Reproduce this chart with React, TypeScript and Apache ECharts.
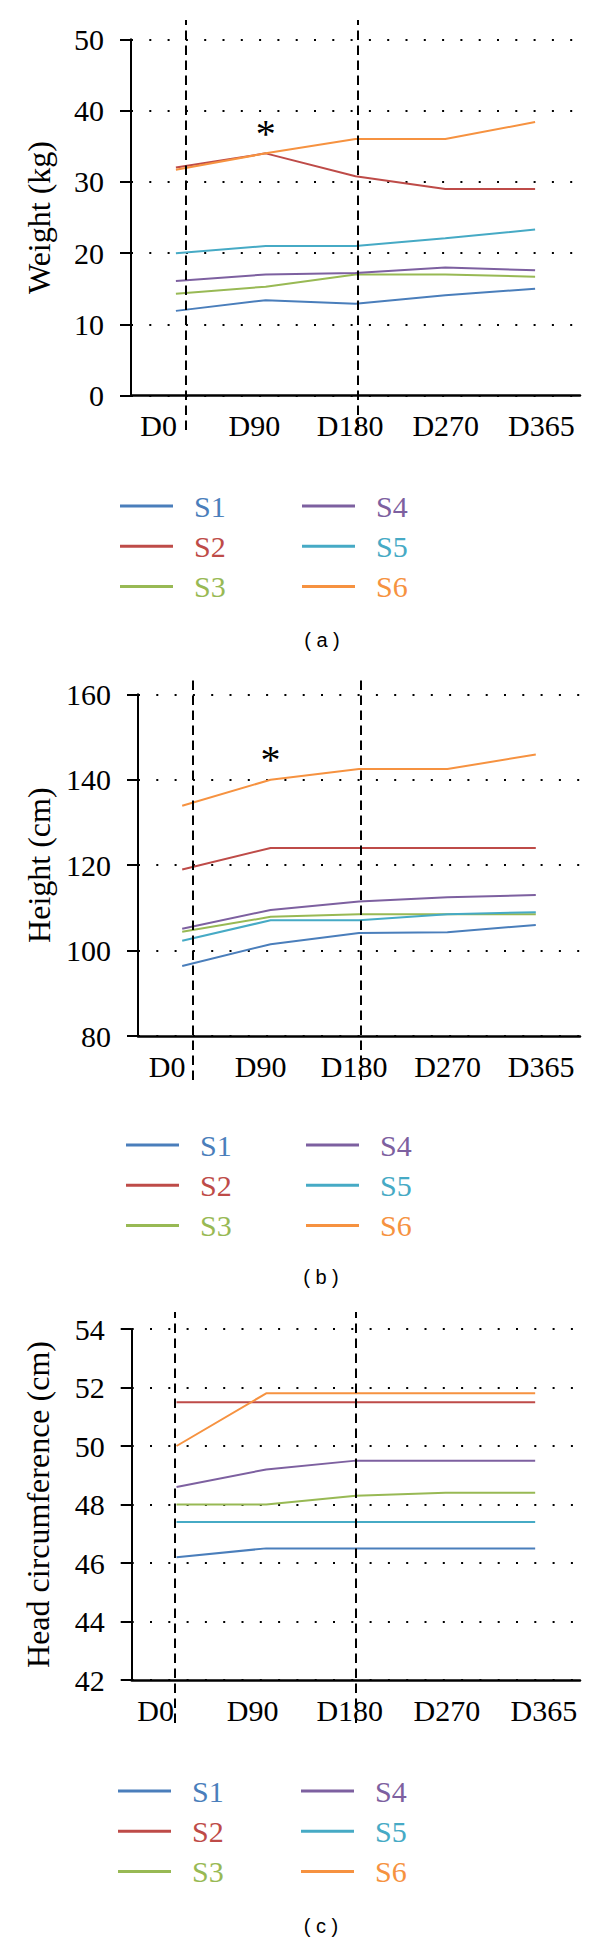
import React, { useEffect, useRef } from 'react';
import * as echarts from 'echarts';

// ---------- data ----------
const days = ['D0', 'D90', 'D180', 'D270', 'D365'];
const seriesNames = ['S1', 'S2', 'S3', 'S4', 'S5', 'S6'];
const seriesColors = ['#4A7EBB', '#BE4B48', '#98B954', '#7D60A0', '#46AAC5', '#F69240'];

// (a) Weight (kg)
const weightS1 = [11.9, 13.4, 12.9, 14.1, 15.0];
const weightS2 = [32.0, 34.0, 30.8, 29.0, 29.0];
const weightS3 = [14.3, 15.3, 17.0, 17.0, 16.7];
const weightS4 = [16.1, 17.0, 17.2, 18.0, 17.6];
const weightS5 = [20.0, 21.0, 21.0, 22.1, 23.3];
const weightS6 = [31.7, 34.0, 36.0, 36.0, 38.4];
const weightTicks = [0, 10, 20, 30, 40, 50];

// (b) Height (cm)
const heightS1 = [96.4, 101.5, 104.1, 104.3, 106.0];
const heightS2 = [119.0, 124.0, 124.0, 124.0, 124.0];
const heightS3 = [104.4, 107.9, 108.5, 108.5, 108.5];
const heightS4 = [105.1, 109.5, 111.5, 112.5, 113.0];
const heightS5 = [102.3, 107.1, 107.1, 108.5, 109.0];
const heightS6 = [133.9, 140.0, 142.5, 142.5, 145.9];
const heightTicks = [80, 100, 120, 140, 160];

// (c) Head circumference (cm)
const headS1 = [46.2, 46.5, 46.5, 46.5, 46.5];
const headS2 = [51.5, 51.5, 51.5, 51.5, 51.5];
const headS3 = [48.0, 48.0, 48.3, 48.4, 48.4];
const headS4 = [48.6, 49.2, 49.5, 49.5, 49.5];
const headS5 = [47.4, 47.4, 47.4, 47.4, 47.4];
const headS6 = [50.0, 51.8, 51.8, 51.8, 51.8];
const headTicks = [42, 44, 46, 48, 50, 52, 54];

// significance mark '*' on S6 at D90 (panels a, b)
const starIndex = 1;
// vertical dashed markers (in day-index units)
const weightMarkers = [0.11, 2.02];
const heightMarkers = [0.12, 2.02];
const headMarkers = [-0.02, 2.0];

// ---------- layout ----------
const SERIF = 'Liberation Serif';
const panels = [
  {
    title: 'Weight (kg)', caption: '( a )', ticks: weightTicks,
    values: [weightS1, weightS2, weightS3, weightS4, weightS5, weightS6],
    markers: weightMarkers, star: true,
    left: 131, width: 449, top: 39.3, height: 356.4,
    labelLeft: 110.8, labelWidth: 478.5,
    dashTop: 20, dashHeight: 410,
    nameGap: 76,
    legendTop: 491, legendLeft: [120, 302],
    captionX: 322, captionY: 640,
  },
  {
    title: 'Height (cm)', caption: '( b )', ticks: heightTicks,
    values: [heightS1, heightS2, heightS3, heightS4, heightS5, heightS6],
    markers: heightMarkers, star: true,
    left: 138, width: 442, top: 694.3, height: 341.7,
    labelLeft: 120.3, labelWidth: 467.5,
    dashTop: 675, dashHeight: 405,
    nameGap: 83,
    legendTop: 1130, legendLeft: [126, 306],
    captionX: 321, captionY: 1277,
  },
  {
    title: 'Head circumference (cm)', caption: '( c )', ticks: headTicks,
    values: [headS1, headS2, headS3, headS4, headS5, headS6],
    markers: headMarkers, star: false,
    left: 131.7, width: 448.3, top: 1329, height: 351,
    labelLeft: 107, labelWidth: 485.5,
    dashTop: 1312, dashHeight: 411,
    nameGap: 78,
    legendTop: 1776, legendLeft: [118, 301],
    captionX: 321, captionY: 1926,
  },
];

function buildOption() {
  const grid: any[] = [];
  const xAxis: any[] = [];
  const yAxis: any[] = [];
  const series: any[] = [];
  const legend: any[] = [];
  const graphic: any[] = [];

  panels.forEach((p, pi) => {
    const g = pi * 3;
    grid.push({ left: p.left, top: p.top, width: p.width, height: p.height, containLabel: false });
    grid.push({ left: p.labelLeft, top: p.top, width: p.labelWidth, height: p.height, containLabel: false });
    grid.push({ left: p.left, top: p.dashTop, width: p.width, height: p.dashHeight, containLabel: false });

    xAxis.push({
      gridIndex: g, type: 'category', data: days, boundaryGap: true,
      axisLine: { show: true, onZero: false, lineStyle: { color: '#000', width: 2.5 } },
      axisTick: { show: false }, axisLabel: { show: false }, splitLine: { show: false },
    });
    xAxis.push({
      gridIndex: g + 1, type: 'category', data: days, boundaryGap: true,
      axisLine: { show: false }, axisTick: { show: false }, splitLine: { show: false },
      axisLabel: { show: true, interval: 0, margin: 15, fontSize: 30, fontFamily: SERIF, color: '#000' },
    });
    xAxis.push({ gridIndex: g + 2, type: 'value', min: -0.5, max: 4.5, show: false });

    const t = p.ticks;
    yAxis.push({
      gridIndex: g, type: 'value', min: t[0], max: t[t.length - 1], interval: t[1] - t[0],
      name: p.title, nameLocation: 'middle', nameGap: p.nameGap,
      nameTextStyle: { fontSize: 32, fontFamily: SERIF, color: '#000' },
      axisLine: { show: true, lineStyle: { color: '#000', width: 2 } },
      axisTick: { show: true, length: 11, lineStyle: { color: '#000', width: 2 } },
      axisLabel: { fontSize: 30, fontFamily: SERIF, color: '#000', margin: 27 },
      splitLine: { show: true, lineStyle: { color: '#000', width: 2, type: [2, 16.3] } },
    });
    yAxis.push({ gridIndex: g + 1, type: 'value', show: false });
    yAxis.push({ gridIndex: g + 2, type: 'value', min: 0, max: 1, show: false });

    seriesNames.forEach((name, si) => {
      const vals = p.values[si];
      const data = vals.map((v, i) => {
        if (p.star && si === 5 && i === starIndex) {
          return {
            value: v,
            label: {
              show: true, formatter: '*', position: 'top', distance: 0,
              fontSize: 40, fontFamily: SERIF, color: '#000',
            },
          };
        }
        return v;
      });
      series.push({
        type: 'line', name, xAxisIndex: g, yAxisIndex: g, data,
        color: seriesColors[si],
        symbol: 'circle', symbolSize: 0, showSymbol: true,
        lineStyle: { color: seriesColors[si], width: 2 },
        itemStyle: { color: seriesColors[si] },
        z: 2, silent: true,
      });
    });

    series.push({
      type: 'line', name: 'markers' + pi, xAxisIndex: g + 2, yAxisIndex: g + 2, data: [],
      z: 4, silent: true,
      markLine: {
        silent: true, symbol: ['none', 'none'], label: { show: false },
        lineStyle: { color: '#000', width: 2, type: [9.5, 5.5] },
        data: p.markers.map((m) => ({ xAxis: m })),
      },
    });

    [0, 1].forEach((col) => {
      legend.push({
        orient: 'vertical', left: p.legendLeft[col], top: p.legendTop,
        padding: 0, itemGap: 10.3, itemWidth: 53, itemHeight: 3, icon: 'rect',
        selectedMode: false,
        data: seriesNames.slice(col * 3, col * 3 + 3).map((n, k) => ({
          name: n,
          itemStyle: { color: seriesColors[col * 3 + k], borderWidth: 0 },
          textStyle: { color: seriesColors[col * 3 + k] },
        })),
        textStyle: { fontSize: 30, fontFamily: SERIF, lineHeight: 30, padding: [0, 0, 0, 16] },
      });
    });

    graphic.push({
      type: 'text', x: p.captionX, y: p.captionY,
      style: {
        text: p.caption, fontSize: 20, fontFamily: 'Liberation Sans', fill: '#000',
        align: 'center', verticalAlign: 'middle',
      },
    });
  });

  return {
    animation: false,
    backgroundColor: '#fff',
    grid, xAxis, yAxis, series, legend, graphic,
  };
}

export default function App() {
  const ref = useRef<HTMLDivElement>(null);
  useEffect(() => {
    document.body.style.margin = '0';
    const chart = echarts.init(ref.current!, undefined, { renderer: 'svg' });
    chart.setOption(buildOption() as any);
    return () => chart.dispose();
  }, []);
  return <div ref={ref} style={{ width: 600, height: 1940 }} />;
}
